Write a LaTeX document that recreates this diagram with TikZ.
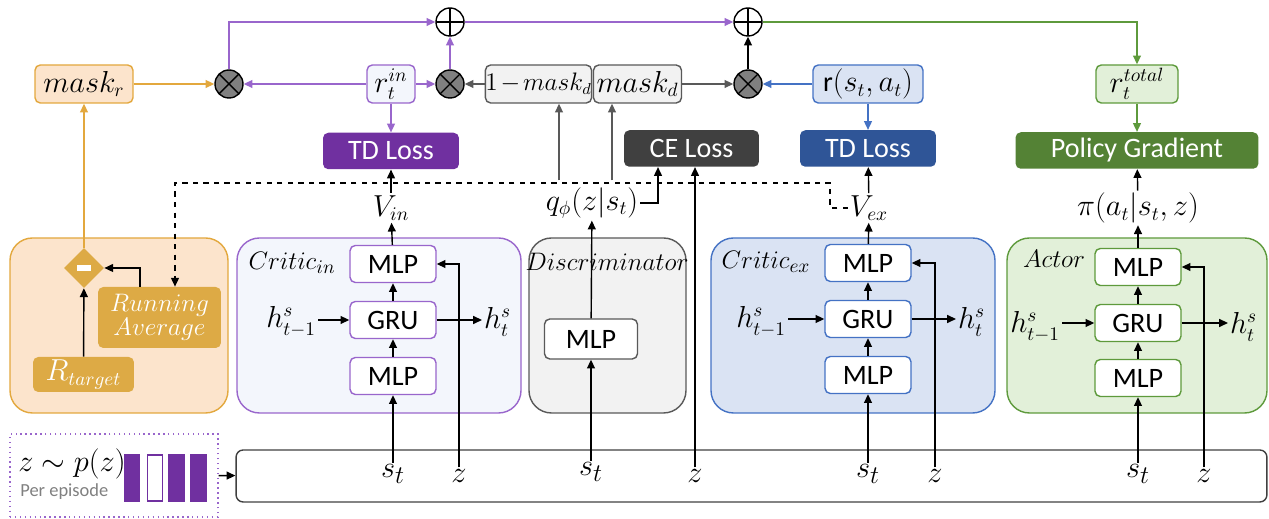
\documentclass[tikz,border=0pt]{standalone}
\usepackage{fontspec}
\setmainfont{Carlito}
\usepackage{tikz}
\usetikzlibrary{arrows.meta,positioning,shapes.geometric}

\definecolor{purp}{HTML}{7030A0}
\definecolor{purl}{HTML}{9966CC}
\definecolor{inbg}{HTML}{F3F6FC}
\definecolor{orng}{HTML}{E3A83E}
\definecolor{orngbg}{HTML}{FCE4CC}
\definecolor{gold}{HTML}{DDAA45}
\definecolor{blu}{HTML}{2F5597}
\definecolor{blul}{HTML}{4472C4}
\definecolor{blubg}{HTML}{DAE3F3}
\definecolor{grn}{HTML}{548235}
\definecolor{grnl}{HTML}{5E9A3C}
\definecolor{grnbg}{HTML}{E2F0D9}
\definecolor{dgray}{HTML}{404040}
\definecolor{mgray}{HTML}{595959}
\definecolor{graybg}{HTML}{F2F2F2}

\tikzset{
  arr/.style={-{Triangle[length=5pt,width=4.5pt]}, line width=0.8pt},
  parr/.style={arr, purl},
  oarr/.style={arr, orng},
  barr/.style={arr, blul},
  garr/.style={arr, mgray},
  grarr/.style={arr, grnl},
  box/.style={draw, rounded corners=3pt, fill=white, inner sep=0pt, line width=0.8pt},
  mlp/.style={box, minimum width=1.72cm, minimum height=0.74cm},
  topbox/.style={box, minimum height=0.76cm},
  loss/.style={rounded corners=3pt, inner sep=0pt, minimum height=0.73cm, text=white},
  panel/.style={rounded corners=0.45cm, line width=0.8pt},
  title/.style={font=\fontsize{15}{18}\selectfont},
  mult/.style={circle, draw, fill=gray, minimum size=0.56cm, inner sep=0pt, line width=0.8pt,
    path picture={\draw[line width=0.8pt] (path picture bounding box.north west) -- (path picture bounding box.south east)
      (path picture bounding box.south west) -- (path picture bounding box.north east);}},
  plus/.style={circle, draw, fill=white, minimum size=0.56cm, inner sep=0pt, line width=0.8pt,
    path picture={\draw[line width=0.8pt] (path picture bounding box.north) -- (path picture bounding box.south)
      (path picture bounding box.west) -- (path picture bounding box.east);}},
  inp/.style={font=\fontsize{19}{22}\selectfont, inner sep=1pt},
}

\begin{document}
\begin{tikzpicture}[x=0.02cm, y=-0.02cm, font=\fontsize{16}{19}\selectfont]
  \useasboundingbox (0,0) rectangle (1269,519);

  % panels
  \draw[panel, draw=orng, fill=orngbg] (10,238) rectangle (228,413);
  \draw[panel, draw=purl, fill=inbg] (237,238) rectangle (521,413);
  \draw[panel, draw=mgray, fill=graybg] (529,238) rectangle (686,413);
  \draw[panel, draw=blul, fill=blubg] (711,238) rectangle (995,413);
  \draw[panel, draw=grnl, fill=grnbg] (1007,238) rectangle (1267,413);

  % top row
  \node[topbox, draw=orng, fill=orngbg, minimum width=1.96cm] (maskr) at (84,84) {$mask_r$};
  \node[mult] (m1) at (229,84) {};
  \node[topbox, draw=purl, fill=inbg, minimum width=0.96cm] (rin) at (391,84) {$r_t^{in}$};
  \node[mult] (m2) at (450,84) {};
  \node[plus] (p1) at (450,22) {};
  \node[topbox, draw=mgray, fill=graybg, minimum width=2.02cm] (negd) at (538.5,84)
    {\fontsize{13.5}{16}\selectfont$1\mskip2mu{-}\mskip2mu mask_d$};
  \node[topbox, draw=mgray, fill=graybg, minimum width=1.76cm] (maskd) at (637.5,84) {$mask_d$};
  \node[mult] (m3) at (748,84) {};
  \node[plus] (p2) at (748,22) {};
  \node[topbox, draw=blul, fill=blubg, minimum width=2.2cm] (rex) at (868,84) {r$(s_t,a_t)$};
  \node[topbox, draw=grnl, fill=grnbg, minimum width=1.64cm] (rtot) at (1137,84) {$r_t^{total}$};

  % losses
  \node[loss, fill=purp, minimum width=2.72cm] (tdin) at (391,151) {TD Loss};
  \node[loss, fill=dgray, minimum width=2.7cm] (ce) at (691.5,148.5) {CE Loss};
  \node[loss, fill=blu, minimum width=2.72cm] (tdex) at (868,148.5) {TD Loss};
  \node[loss, fill=grn, minimum width=4.86cm] (pg) at (1137,150.5) {Policy Gradient};

  % outputs
  \node[inner sep=1pt] (vin) at (391,208) {$V_{in}$};
  \node[inner sep=1pt] (q) at (592,203) {$q_\phi(z|s_t)$};
  \node[inner sep=1pt] (vex) at (869,208) {$V_{ex}$};
  \node[inner sep=1pt] (pi) at (1138,208) {$\pi(a_t|s_t,z)$};

  % reward target
  \node[diamond, fill=gold, minimum width=0.8cm, minimum height=0.8cm, inner sep=0pt] (diff) at (84,268)
    {\textcolor{white}{\rule{0.28cm}{0.12cm}}};
  \node[rounded corners=3pt, fill=gold, text=white, align=center, minimum width=2.46cm, minimum height=1.22cm,
    inner sep=0pt, title] (ravg) at (159.5,317.5) {$Running$\\[-4pt]$Average$};
  \node[rounded corners=3pt, fill=gold, text=white, minimum width=2.02cm, minimum height=0.7cm,
    inner sep=0pt] (rtgt) at (83.5,374.5) {$R_{target}$};

  % intrinsic critic
  \node[title] (lci) at (292,263) {$Critic_{in}$};
  \node[mlp, draw=purl] (ci2) at (393,264) {MLP};
  \node[mlp, draw=purl] (cig) at (393,320) {GRU};
  \node[mlp, draw=purl] (ci1) at (393,376) {MLP};
  \node[anchor=east, inner sep=1pt] (hi0) at (318,322) {$h^s_{t-1}$};
  \node[anchor=west, inner sep=1pt] (hi1) at (482,322) {$h^s_t$};

  % discriminator
  \node[title] (ld) at (607,262) {$Discriminator$};
  \node[box, draw=mgray, minimum width=1.86cm, minimum height=0.8cm] (dm) at (591,339) {MLP};

  % extrinsic critic
  \node[title] (lce) at (766,262) {$Critic_{ex}$};
  \node[mlp, draw=blul] (ce2) at (868,263) {MLP};
  \node[mlp, draw=blul] (ceg) at (868,319) {GRU};
  \node[mlp, draw=blul] (ce1) at (868,375) {MLP};
  \node[anchor=east, inner sep=1pt] (he0) at (788,322) {$h^s_{t-1}$};
  \node[anchor=west, inner sep=1pt] (he1) at (956,322) {$h^s_t$};

  % actor
  \node[title] (la) at (1054,259) {$Actor$};
  \node[mlp, draw=grnl] (a2) at (1138,267) {MLP};
  \node[mlp, draw=grnl] (ag) at (1138,323) {GRU};
  \node[mlp, draw=grnl] (a1) at (1138,378) {MLP};
  \node[anchor=east, inner sep=1pt] (ha0) at (1062,327) {$h^s_{t-1}$};
  \node[anchor=west, inner sep=1pt] (ha1) at (1228,327) {$h^s_t$};

  % inputs
  \node[draw=purl, dotted, line width=0.8pt, minimum width=4.16cm, minimum height=1.66cm] (zbox) at (114,475.5) {};
  \node[anchor=west, inner sep=0pt, font=\fontsize{19}{22}\selectfont] (zp) at (18,464) {$z\sim p(z)$};
  \node[anchor=west, inner sep=0pt, text=gray, font=\fontsize{10.5}{12}\selectfont] (pe) at (20,492) {Per episode};
  \fill[purp] (124,454) rectangle (140,502);
  \draw[purp, fill=white, line width=0.8pt] (147.5,455) rectangle (162.5,501);
  \fill[purp] (168,454) rectangle (185,502);
  \fill[purp] (190,454) rectangle (207,502);
  \node[draw=dgray, rounded corners=4pt, line width=0.8pt, minimum width=20.62cm, minimum height=1.04cm] (bar) at (751.5,476) {};
  \node[inp] (s1) at (393,474) {$s_t$};
  \node[inp] (z1) at (459,476) {$z$};
  \node[inp] (s2) at (591,472) {$s_t$};
  \node[inp] (z2) at (695,476) {$z$};
  \node[inp] (s3) at (868,474) {$s_t$};
  \node[inp] (z3) at (935,476) {$z$};
  \node[inp] (s4) at (1138,474) {$s_t$};
  \node[inp] (z4) at (1204,476) {$z$};
  \draw[arr] (zbox) -- (bar);

  % top connectors
  \draw[oarr] (maskr) -- (m1);
  \draw[parr] (rin) -- (m1);
  \draw[parr] (rin) -- (m2);
  \draw[garr] (negd) -- (m2);
  \draw[garr] (maskd) -- (m3);
  \draw[barr] (rex) -- (m3);
  \draw[parr] (m1) |- (p1);
  \draw[parr] (m2) -- (p1);
  \draw[parr] (p1) -- (p2);
  \draw[arr] (m3) -- (p2);
  \draw[grarr] (p2) -| (rtot);
  \draw[parr] (rin) -- (tdin);
  \draw[barr] (rex) -- (tdex);
  \draw[grarr] (rtot) -- (pg);

  % values to losses
  \draw[arr] (vin) -- (tdin);
  \draw[arr] (vex) -- (tdex);
  \draw[arr] (pi) -- (pg);
  \draw[arr] (q.east) -| ([xshift=-0.67cm]ce.south);
  \draw[garr] ([xshift=-0.66cm,yshift=0.1cm]q.north) -- ([xshift=-0.66cm]q.north |- negd.south);
  \draw[garr] ([xshift=0.4cm,yshift=0.1cm]q.north) -- ([xshift=0.4cm]q.north |- maskd.south);
  \coordinate (dash) at (830,183);
  \draw[arr, dashed] (vex.west) -| (dash) -| ([xshift=0.31cm]ravg.north);

  % reward target
  \draw[arr] (rtgt) -- (diff);
  \draw[arr] ([xshift=-0.39cm]ravg.north) |- (diff.east);
  \draw[oarr] (diff) -- (maskr);

  % networks
  \foreach \lo/\gr/\hi/\hz/\ho/\s/\z in {ci1/cig/ci2/hi0/hi1/s1/z1, ce1/ceg/ce2/he0/he1/s3/z3, a1/ag/a2/ha0/ha1/s4/z4} {
    \draw[arr] (\s) -- (\lo);
    \draw[arr] (\lo) -- (\gr);
    \draw[arr] (\gr) -- (\hi);
    \draw[arr] (\hz.east |- \gr.west) -- (\gr.west);
    \draw[arr] (\gr.east) -- (\gr.east -| \ho.west);
    \draw[arr] (\z) |- (\hi.east);
  }
  \draw[arr] (ci2) -- (vin);
  \draw[arr] (ce2) -- (vex);
  \draw[arr] (a2) -- (pi);
  \draw[arr] (s2) -- (dm);
  \draw[arr] (dm) -- (q);
  \draw[arr] (z2) -- (z2 |- ce.south);
\end{tikzpicture}
\end{document}
